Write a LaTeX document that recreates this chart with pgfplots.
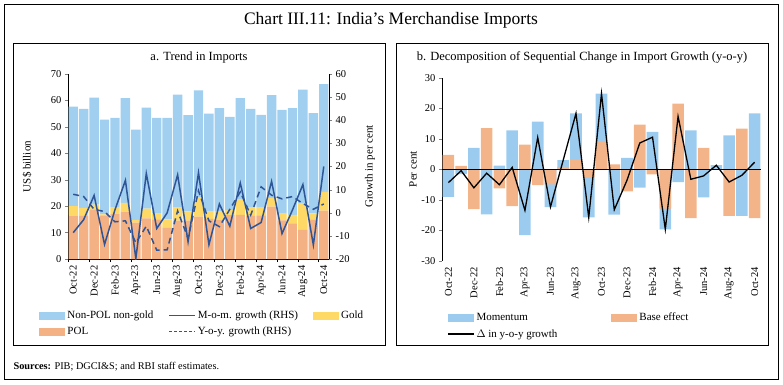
\documentclass[border=0pt]{standalone}
\usepackage{pgfplots}
\usepackage{pgfplotstable}
\pgfplotsset{compat=1.18}
\usepackage{fontspec}
\setmainfont{Liberation Serif}
\definecolor{nonpol}{RGB}{160,207,240}
\definecolor{pol}{RGB}{244,177,131}
\definecolor{gold}{RGB}{255,217,102}
\definecolor{lineblue}{RGB}{47,85,151}
\definecolor{mom}{RGB}{155,204,240}
\definecolor{base}{RGB}{244,180,137}
\pgfplotsset{
  swatch/.style={legend image code/.code={\node[fill=#1, draw=none, minimum width=26pt, minimum height=8pt, inner sep=0pt, outer sep=0pt, anchor=west] at (0pt,0pt) {};}},
}
\pgfplotstableread{
i pol gold nonpol mom yoy
0 16.4 3.6 37.7 -8.6 8.0
1 16.3 3.0 37.5 -3.0 7.0
2 18.8 1.8 40.5 7.5 1.5
3 16.3 0.6 35.8 -13.7 0.5
4 17.0 2.4 34.0 1.3 -3.9
5 17.9 3.3 39.7 14.0 -3.5
6 13.8 1.0 34.2 -19.8 -13.0
7 15.4 3.7 38.2 17.0 -5.8
8 15.0 2.2 36.2 -6.8 -16.2
9 11.8 3.2 38.4 0.0 -16.0
10 14.5 4.9 42.8 16.4 0.8
11 14.5 3.5 36.4 -12.5 -11.0
12 16.0 7.2 40.6 17.3 9.5
13 15.2 2.7 37.1 -13.8 -3.5
14 14.7 3.4 39.0 3.8 -6.0
15 16.6 1.9 35.3 -5.8 1.5
16 16.7 6.0 38.2 12.9 9.0
17 16.3 3.3 37.2 -6.8 -1.0
18 16.5 3.1 34.9 -4.2 11.2
19 19.8 3.3 38.9 13.6 7.6
20 14.6 2.8 39.0 -9.0 6.0
21 13.5 3.2 40.4 1.2 7.0
22 11.0 10.1 43.0 12.2 4.0
23 14.8 2.5 37.9 -13.9 1.5
24 18.3 7.1 40.8 20.0 3.8
}\imports
\pgfplotstableread{
i blueup bluedown base delta
0 0 -9.1 4.7 -4.4
1 0 -1.6 1.1 -0.5
2 7.0 0 -13.1 -6.1
3 0 -14.8 13.5 -1.3
4 1.2 0 -6.3 -5.1
5 12.7 0 -12.1 0.6
6 0 -21.6 8.1 -13.5
7 15.6 0 -5.2 10.4
8 0 -12.4 -5.0 -12.4
9 3.0 0 0.8 3.0
10 18.3 0 3.0 18.3
11 0 -15.8 -2.5 -15.8
12 24.8 0 9.0 24.8
13 0 -14.9 1.6 -13.3
14 3.7 0 -7.3 -3.6
15 0 -6.0 14.6 8.6
16 12.2 0 -1.7 10.5
17 0 -19.7 -12.9 -19.7
18 0 -4.2 21.5 17.3
19 12.7 0 -16.0 -3.3
20 0 -9.2 7.0 -2.2
21 1.3 0 0 1.3
22 11.1 0 -15.3 -4.2
23 0 -15.3 13.3 -2.0
24 18.3 0 -16.0 2.3
}\decomp
\begin{document}
\begin{tikzpicture}
\path[use as bounding box] (0pt,0pt) rectangle (783pt,384pt);
\draw[line width=0.8pt] (4.5pt,5pt) rectangle (778.5pt,379.5pt);
\draw[line width=0.6pt] (13pt,39pt) rectangle (385pt,341pt);
\draw[line width=0.6pt] (396pt,39pt) rectangle (768pt,341pt);
\node at (391pt,364pt) {\fontsize{17.5}{20}\selectfont Chart III.11: India's Merchandise Imports};
\node at (199pt,327pt) {\fontsize{12.5}{14}\selectfont a. Trend in Imports};
\node at (582pt,327pt) {\fontsize{12.5}{14}\selectfont b. Decomposition of Sequential Change in Import Growth (y-o-y)};
\node[anchor=west] at (10pt,17pt) {\fontsize{10.3}{12}\selectfont\textbf{Sources:} PIB; DGCI\&S; and RBI staff estimates.};

\pgfplotsset{every axis/.append style={
  scale only axis,
  tick label style={font=\fontsize{10.5}{12}\selectfont},
  label style={font=\fontsize{11}{13}\selectfont},
  /pgf/number format/assume math mode=true,
  tick align=outside, major tick length=3pt,
  xmin=-0.5, xmax=24.5,
}}

% left panel bars
\begin{axis}[at={(68pt,125pt)}, anchor=south west, width=261pt, height=185pt,
  ymin=0, ymax=70, ytick={0,10,...,70},
  axis y line*=left, axis x line*=bottom,
  xtick={0,2,...,24},
  xticklabels={Oct-22,Dec-22,Feb-23,Apr-23,Jun-23,Aug-23,Oct-23,Dec-23,Feb-24,Apr-24,Jun-24,Aug-24,Oct-24},
  x tick label style={rotate=90, anchor=east},
  major x tick style={draw=none},
  extra x ticks={-0.5,1.5,...,23.5}, extra x tick labels={},
  extra x tick style={major x tick style={draw=black}},
  ylabel={US\$ billion},
  ylabel style={at={(axis description cs:-0.157,0.5)}, anchor=center},
  ybar stacked, bar width=9.4pt]
\addplot[fill=pol, draw=none] table[x=i,y=pol]{\imports};
\addplot[fill=gold, draw=none] table[x=i,y=gold]{\imports};
\addplot[fill=nonpol, draw=none] table[x=i,y=nonpol]{\imports};
\end{axis}

% left panel lines (RHS)
\begin{axis}[at={(68pt,125pt)}, anchor=south west, width=261pt, height=185pt,
  ymin=-20, ymax=60, ytick={-20,-10,...,60},
  axis y line*=right, axis x line=none,
  ylabel={Growth in per cent},
  ylabel style={at={(axis description cs:1.157,0.5)}, anchor=center},
  legend columns=3,
  legend style={draw=none, fill=none, at={(axis description cs:-0.11,-0.27)}, anchor=north west,
    font=\fontsize{11}{13}\selectfont, inner sep=0pt, row sep=3pt,
    /tikz/every even column/.append style={column sep=13pt}},
  legend cell align=left]
\addlegendimage{swatch=nonpol}
\addlegendentry{Non-POL non-gold}
\addlegendimage{legend image code/.code={\path[draw=lineblue, line width=1.5pt] (0pt,0pt) -- (26pt,0pt);}}
\addlegendentry{M-o-m. growth (RHS)}
\addlegendimage{swatch=gold}
\addlegendentry{Gold}
\addlegendimage{swatch=pol}
\addlegendentry{POL}
\addlegendimage{legend image code/.code={\path[draw=lineblue, line width=1.2pt, dash pattern=on 3pt off 2pt] (0pt,0pt) -- (26pt,0pt);}}
\addlegendentry{Y-o-y. growth (RHS)}
\addplot[lineblue, line width=1.5pt, forget plot] table[x=i,y=mom]{\imports};
\addplot[lineblue, line width=1.5pt, dash pattern=on 6pt off 4pt, forget plot] table[x=i,y=yoy]{\imports};
\end{axis}

% right panel
\begin{axis}[at={(442pt,123.3pt)}, anchor=south west, width=319pt, height=183pt,
  ymin=-30, ymax=30, ytick={-30,-20,...,30},
  axis y line*=left, axis x line*=bottom,
  x axis line style={draw=none},
  xtick={0,2,...,24},
  xticklabels={Oct-22,Dec-22,Feb-23,Apr-23,Jun-23,Aug-23,Oct-23,Dec-23,Feb-24,Apr-24,Jun-24,Aug-24,Oct-24},
  x tick label style={rotate=90, anchor=east},
  major x tick style={draw=none},
  ylabel={Per cent},
  ylabel style={at={(axis description cs:-0.091,0.5)}, anchor=center},
  ybar, bar width=11.6pt,
  legend columns=2,
  legend style={draw=none, fill=none, at={(axis description cs:0.016,-0.275)}, anchor=north west,
    font=\fontsize{11}{13}\selectfont, inner sep=0pt, row sep=3pt,
    /tikz/every even column/.append style={column sep=52pt}},
  legend cell align=left]
\addlegendimage{swatch=mom}
\addlegendentry{Momentum}
\addlegendimage{swatch=base}
\addlegendentry{Base effect}
\addlegendimage{legend image code/.code={\path[draw=black, line width=1.2pt] (0pt,0pt) -- (26pt,0pt);}}
\addlegendentry{$\Delta$ in y-o-y growth}
\addplot[fill=mom, draw=none, bar shift=0pt, forget plot] table[x=i,y=blueup]{\decomp};
\addplot[fill=mom, draw=none, bar shift=0pt, forget plot] table[x=i,y=bluedown]{\decomp};
\addplot[fill=base, draw=none, bar shift=0pt, forget plot] table[x=i,y=base]{\decomp};
\draw[black, line width=0.9pt] (axis cs:-0.5,0) -- (axis cs:24.5,0);
\addplot[black, line width=1.3pt, sharp plot, mark=none, forget plot] table[x=i,y=delta]{\decomp};
\end{axis}
\end{tikzpicture}
\end{document}
